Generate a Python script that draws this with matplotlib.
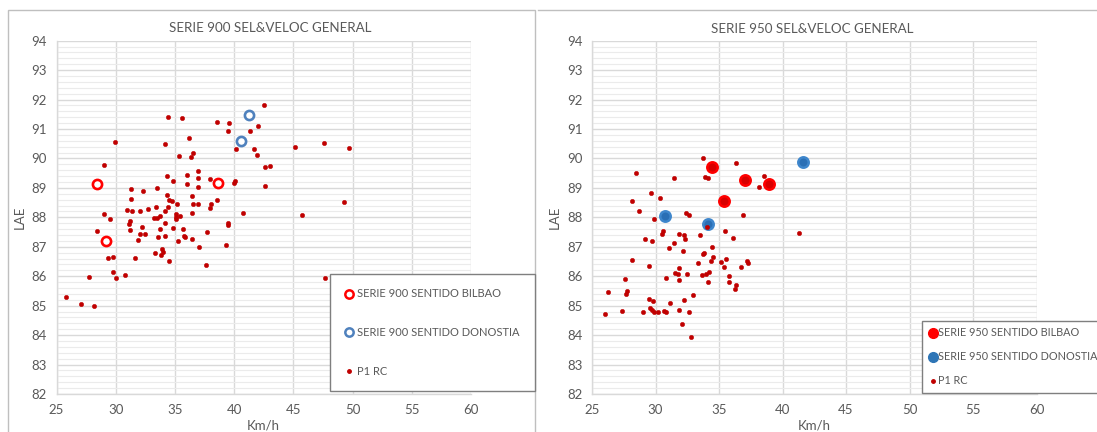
import matplotlib
matplotlib.use('Agg')
import matplotlib.pyplot as plt
from matplotlib.lines import Line2D
from matplotlib.patches import Rectangle
from matplotlib.ticker import MultipleLocator

plt.rcParams['font.family'] = ['Lato', 'DejaVu Sans']

# ---------------- DATA ----------------
title_900 = "SERIE 900 SEL&VELOC GENERAL"
title_950 = "SERIE 950 SEL&VELOC GENERAL"
xlabel = "Km/h"
ylabel = "LAE"

s900_bilbao_x = [28.46, 29.22, 38.62]
s900_bilbao_y = [89.12, 87.21, 89.18]
s900_donostia_x = [41.24, 40.60]
s900_donostia_y = [91.48, 90.58]

p1rc_900_x = [42.52, 34.40, 35.56, 38.59, 39.55, 42.02, 39.49, 41.35, 36.20, 29.92,
              34.17, 47.58, 45.10, 49.73, 41.67, 40.13, 36.49, 36.38, 35.36, 41.93,
              29.04, 43.01, 42.60, 36.99, 36.06, 34.34, 36.96, 34.83, 37.98, 40.04,
              40.01, 36.00, 36.93, 42.60, 31.31, 33.50, 32.27, 34.34, 36.43, 31.31,
              38.59, 34.49, 34.72, 49.27, 35.15, 38.03, 36.55, 36.99, 37.98, 33.38,
              34.40, 32.71, 30.99, 31.37, 32.07, 34.19, 40.77, 36.46, 28.99, 45.69,
              33.76, 35.13, 35.42, 33.21, 33.50, 35.10, 35.10, 29.48, 31.17, 34.19,
              31.14, 39.49, 39.52, 32.19, 34.83, 33.73, 35.65, 31.17, 28.40, 37.69,
              32.07, 32.45, 33.61, 34.19, 35.79, 35.88, 36.41, 35.24, 31.90, 39.31,
              37.05, 33.90, 33.96, 33.35, 33.79, 29.77, 29.34, 31.66, 34.49, 37.63,
              29.77, 30.76, 27.73, 30.06, 47.64, 25.76, 27.04, 28.14]
p1rc_900_y = [91.83, 91.42, 91.38, 91.25, 91.19, 91.11, 90.94, 90.94, 90.69, 90.55,
              90.49, 90.51, 90.40, 90.35, 90.32, 90.32, 90.17, 90.06, 90.09, 90.13,
              89.79, 89.76, 89.70, 89.56, 89.45, 89.40, 89.34, 89.23, 89.30, 89.23,
              89.18, 89.12, 89.03, 89.08, 88.97, 88.98, 88.89, 88.77, 88.72, 88.63,
              88.58, 88.58, 88.55, 88.51, 88.47, 88.47, 88.44, 88.44, 88.33, 88.35,
              88.35, 88.27, 88.24, 88.21, 88.21, 88.21, 88.15, 88.15, 88.13, 88.07,
              88.04, 88.10, 88.04, 87.98, 87.98, 88.01, 87.95, 87.96, 87.89, 87.82,
              87.79, 87.80, 87.74, 87.68, 87.65, 87.59, 87.59, 87.57, 87.54, 87.51,
              87.45, 87.45, 87.33, 87.37, 87.36, 87.33, 87.25, 87.19, 87.23, 87.06,
              87.00, 86.92, 86.81, 86.78, 86.72, 86.66, 86.63, 86.61, 86.53, 86.38,
              86.16, 86.04, 85.99, 85.95, 85.95, 85.31, 85.06, 84.98]

s950_bilbao_x = [34.47, 37.07, 38.97, 35.36]
s950_bilbao_y = [89.72, 89.27, 89.14, 88.57]
s950_donostia_x = [41.65, 30.75, 34.16]
s950_donostia_y = [89.88, 88.03, 87.76]

p1rc_950_x = [33.72, 36.37, 28.49, 38.52, 31.48, 33.88, 34.16, 38.16, 29.66, 30.36,
              28.16, 28.69, 32.40, 32.60, 36.90, 29.86, 34.02, 30.59, 30.53, 35.45,
              41.28, 31.82, 32.21, 32.35, 33.52, 29.19, 29.75, 36.12, 31.48, 34.44,
              31.06, 32.15, 33.83, 33.77, 34.53, 34.39, 35.59, 35.14, 28.16, 37.21,
              37.29, 33.38, 29.47, 36.70, 35.36, 31.87, 31.51, 31.76, 32.46, 33.63,
              33.97, 34.19, 35.75, 30.84, 27.57, 31.84, 34.11, 35.81, 36.37, 36.26,
              26.28, 27.77, 27.71, 32.99, 29.47, 29.80, 32.26, 31.12, 29.53, 29.69,
              29.89, 30.20, 29.02, 27.37, 26.06, 30.70, 30.84, 31.82, 32.60, 32.07,
              32.79]
p1rc_950_y = [90.03, 89.85, 89.52, 89.41, 89.35, 89.38, 89.35, 89.03, 88.82, 88.67,
              88.56, 88.20, 88.15, 88.08, 88.08, 87.96, 87.67, 87.55, 87.44, 87.52,
              87.48, 87.43, 87.39, 87.27, 87.40, 87.27, 87.21, 87.29, 87.14, 87.00,
              86.95, 86.87, 86.79, 86.76, 86.67, 86.53, 86.59, 86.50, 86.56, 86.53,
              86.44, 86.44, 86.36, 86.31, 86.33, 86.27, 86.10, 86.08, 86.08, 86.05,
              86.08, 86.13, 86.01, 85.93, 85.91, 85.86, 85.79, 85.79, 85.70, 85.57,
              85.48, 85.50, 85.40, 85.35, 85.23, 85.17, 85.20, 85.09, 84.92, 84.84,
              84.80, 84.78, 84.78, 84.81, 84.72, 84.81, 84.78, 84.86, 84.78, 84.38,
              83.95]

legend_900 = ["SERIE 900 SENTIDO BILBAO", "SERIE 900 SENTIDO DONOSTIA", "P1 RC"]
legend_950 = ["SERIE 950 SENTIDO BILBAO", "SERIE 950 SENTIDO DONOSTIA", "P1 RC"]

x_range = (25, 60)
y_range = (82, 94)

# ---------------- STYLE ----------------
W, H = 1097, 432
TXT = '#595959'
GRID_MAJ = '#D9D9D9'
GRID_MIN = '#EBEBEB'
RED = '#FF0000'
DOT = '#C00000'
BLUE_EDGE = '#4F81BD'

fig = plt.figure(figsize=(W / 100, H / 100), dpi=100)


def fx(px):
    return px / W


def fy(py):
    return 1 - py / H


def setup(ax):
    ax.set_xlim(*x_range)
    ax.set_ylim(*y_range)
    ax.xaxis.set_major_locator(MultipleLocator(5))
    ax.yaxis.set_major_locator(MultipleLocator(1))
    ax.yaxis.set_minor_locator(MultipleLocator(0.2))
    ax.grid(True, which='major', axis='both', color=GRID_MAJ, lw=1.0, zorder=0)
    ax.grid(True, which='minor', axis='y', color=GRID_MIN, lw=0.8, zorder=0)
    ax.set_axisbelow(True)
    for s in ['top', 'right']:
        ax.spines[s].set_visible(False)
    for s in ['left', 'bottom']:
        ax.spines[s].set_color(GRID_MAJ)
        ax.spines[s].set_linewidth(1.0)
    ax.tick_params(which='both', length=0, colors=TXT, labelsize=9.5)
    ax.tick_params(axis='y', pad=7)
    ax.tick_params(axis='x', pad=7)
    ax.set_xlabel(xlabel, color=TXT, fontsize=9.5, labelpad=3)
    ax.set_ylabel(ylabel, color=TXT, fontsize=9.5, labelpad=4)


# Left chart
ax1 = fig.add_axes([fx(56.5), fy(394), fx(471 - 56.5), (394 - 40.7) / H])
setup(ax1)
ax1.plot(s900_bilbao_x, s900_bilbao_y, 'o', ms=6.6, mfc='white', mec=RED, mew=1.9,
         ls='none', zorder=3, label=legend_900[0])
ax1.plot(s900_donostia_x, s900_donostia_y, 'o', ms=6.6, mfc='white', mec=BLUE_EDGE, mew=1.9,
         ls='none', zorder=3, label=legend_900[1])
ax1.plot(p1rc_900_x, p1rc_900_y, 'o', ms=3.2, mfc=DOT, mec=DOT, mew=0.3,
         ls='none', zorder=4, label=legend_900[2])

# Right chart
ax2 = fig.add_axes([fx(592), fy(394), fx(1036.5 - 592), (394 - 40.7) / H])
setup(ax2)
ax2.plot(s950_bilbao_x, s950_bilbao_y, 'o', ms=7.5, mfc='#D80000', mec=RED, mew=1.8,
         ls='none', zorder=3, label=legend_950[0])
ax2.plot(s950_donostia_x, s950_donostia_y, 'o', ms=7.5, mfc='#2A6FB5', mec='#3E86CC', mew=1.8,
         ls='none', zorder=3, label=legend_950[1])
ax2.plot(p1rc_950_x, p1rc_950_y, 'o', ms=3.2, mfc=DOT, mec=DOT, mew=0.3,
         ls='none', zorder=4, label=legend_950[2])

# Titles
fig.text(fx(270), fy(28), title_900, ha='center', va='center', color=TXT, fontsize=9.6)
fig.text(fx(812), fy(29), title_950, ha='center', va='center', color=TXT, fontsize=9.6)

# Legends
h1 = [Line2D([], [], marker='o', ls='none', ms=6, mfc='white', mec=RED, mew=1.8),
      Line2D([], [], marker='o', ls='none', ms=6, mfc='white', mec=BLUE_EDGE, mew=1.8),
      Line2D([], [], marker='o', ls='none', ms=2.5, mfc=DOT, mec=DOT)]
leg1 = fig.legend(h1, legend_900, loc='upper left',
                  bbox_to_anchor=(fx(330), fy(274), fx(205), 0.0), mode='expand',
                  frameon=True, fancybox=False, edgecolor='#7F7F7F', framealpha=1,
                  fontsize=8, labelcolor=TXT, handlelength=0.9, handletextpad=0.2,
                  borderpad=1.3, labelspacing=2.5, borderaxespad=0)
leg1.get_frame().set_linewidth(1.0)

h2 = [Line2D([], [], marker='o', ls='none', ms=7, mfc=RED, mec=RED),
      Line2D([], [], marker='o', ls='none', ms=7, mfc='#2E75B6', mec='#2E75B6'),
      Line2D([], [], marker='o', ls='none', ms=2.5, mfc=DOT, mec=DOT)]
leg2 = fig.legend(h2, legend_950, loc='upper left',
                  bbox_to_anchor=(fx(922), fy(321), fx(200), 0.0), mode='expand',
                  frameon=True, fancybox=False, edgecolor='#7F7F7F', framealpha=1,
                  fontsize=7.8, labelcolor=TXT, handlelength=0.8, handletextpad=0.1,
                  borderpad=0.6, labelspacing=1.2, borderaxespad=0)
leg2.get_frame().set_linewidth(1.0)

# Chart area borders
fig.patches.append(Rectangle((fx(8), fy(436)), fx(535 - 8), (436 - 10) / H,
                             transform=fig.transFigure, fill=False,
                             edgecolor='#BFBFBF', lw=1.0))
fig.lines.append(Line2D([fx(538), 1.0], [fy(10), fy(10)], transform=fig.transFigure,
                        color='#BFBFBF', lw=1.0))

fig.savefig('out.png', dpi=100)
